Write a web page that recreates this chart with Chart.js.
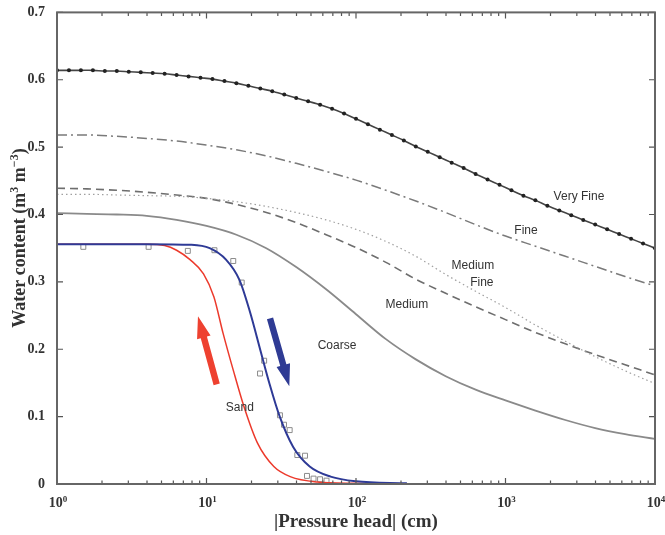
<!DOCTYPE html>
<html>
<head>
<meta charset="utf-8">
<script src="https://cdn.jsdelivr.net/npm/chart.js@4"></script>
<style>
  html, body { margin: 0; padding: 0; background: #fff; }
  #wrap { width: 665px; height: 535px; position: relative; }
</style>
</head>
<body>
<div id="wrap"><canvas id="retention"></canvas></div>
<script>
// --- Data ---
// pressure head values (cm) for the dotted "Very Fine" curve
const vfX = [1, 1.202, 1.445, 1.738, 2.089, 2.512, 3.020, 3.631, 4.365, 5.248, 6.310, 7.586, 9.120,
  10.96, 13.18, 15.85, 19.05, 22.91, 27.54, 33.11, 39.81, 47.86, 57.54, 69.18, 83.18, 100,
  120.2, 144.5, 173.8, 208.9, 251.2, 302.0, 363.1, 436.5, 524.8, 631.0, 758.6, 912.0,
  1096, 1318, 1585, 1905, 2291, 2754, 3311, 3981, 4786, 5754, 6918, 8318, 10000];
const veryFine = [0.614, 0.614, 0.614, 0.614, 0.613, 0.613, 0.612, 0.611, 0.610, 0.609, 0.607, 0.605, 0.603,
  0.601, 0.598, 0.595, 0.591, 0.587, 0.583, 0.578, 0.573, 0.568, 0.563, 0.557, 0.550, 0.542,
  0.534, 0.526, 0.518, 0.510, 0.501, 0.493, 0.485, 0.477, 0.469, 0.460, 0.452, 0.444,
  0.436, 0.428, 0.421, 0.413, 0.406, 0.399, 0.392, 0.385, 0.378, 0.371, 0.364, 0.357, 0.350];

// pressure head values (cm) shared by the other texture curves
const headX = [1, 1.585, 2.512, 3.981, 6.310, 10, 15.85, 25.12, 39.81, 63.10, 100,
  158.5, 251.2, 398.1, 631.0, 1000, 1585, 2512, 3981, 6310, 10000];
const fine       = [0.518, 0.518, 0.516, 0.513, 0.509, 0.503, 0.496, 0.487, 0.476, 0.464, 0.451,
  0.436, 0.420, 0.403, 0.385, 0.368, 0.353, 0.338, 0.323, 0.308, 0.294];
const mediumFine = [0.430, 0.430, 0.429, 0.428, 0.427, 0.424, 0.419, 0.412, 0.403, 0.392, 0.378,
  0.360, 0.338, 0.311, 0.286, 0.262, 0.236, 0.212, 0.189, 0.168, 0.149];
const medium     = [0.439, 0.438, 0.436, 0.433, 0.429, 0.424, 0.415, 0.403, 0.388, 0.370, 0.351,
  0.329, 0.304, 0.283, 0.263, 0.244, 0.225, 0.208, 0.192, 0.177, 0.162];
const coarse     = [0.402, 0.401, 0.400, 0.398, 0.392, 0.383, 0.370, 0.350, 0.322, 0.289, 0.252,
  0.215, 0.185, 0.160, 0.140, 0.124, 0.109, 0.095, 0.083, 0.074, 0.067];

// sand: drying (blue) and wetting (red) branches
const dryX = [1, 3.98, 7.94, 10.5, 13.5, 16.6, 19.5, 22.9, 26.3, 30.9, 38.0, 49.0, 67.6, 100, 219];
const dryY = [0.356, 0.356, 0.355, 0.350, 0.333, 0.303, 0.256, 0.199, 0.150, 0.100, 0.055, 0.026, 0.011, 0.004, 0.001];
const wetX = [1, 3.98, 5.25, 6.31, 7.76, 9.55, 11.2, 12.9, 15.1, 17.8, 21.9, 28.2, 36.3, 55, 100, 178];
const wetY = [0.356, 0.356, 0.354, 0.347, 0.333, 0.312, 0.278, 0.224, 0.169, 0.115, 0.061, 0.026, 0.011, 0.003, 0.001, 0.0];

// measured sand points (open squares)
const obsX = [1.5, 4.1, 7.5, 11.3, 15.1, 17.2, 22.8, 24.3, 31, 33, 36, 40.5, 45.6, 47, 52, 57.5, 63.5];
const obsY = [0.352, 0.352, 0.346, 0.347, 0.331, 0.299, 0.164, 0.183, 0.102, 0.088, 0.080, 0.043, 0.042, 0.012, 0.008, 0.007, 0.005];

// x tick labels (powers of ten): base + exponent
const decadeTicks = [1, 10, 100, 1000, 10000];
const decadeExps = ['0', '1', '2', '3', '4'];

// curve labels, placed in data coordinates
const curveLabels = [
  { text: 'Very Fine', x: 3100, y: 0.426 },
  { text: 'Fine', x: 1371, y: 0.376 },
  { text: 'Medium', x: 605, y: 0.324 },
  { text: 'Fine', x: 695, y: 0.299 },
  { text: 'Medium', x: 219, y: 0.266 },
  { text: 'Coarse', x: 74.6, y: 0.206 },
  { text: 'Sand', x: 16.7, y: 0.113 }
];

// hysteresis arrows: from tail to tip, data coordinates
const arrows = [
  { from: [11.7, 0.148], to: [8.77, 0.249], color: '#ee4130' },
  { from: [26.6, 0.246], to: [35.8, 0.145], color: '#2f3b94' }
];

function pairs(xs, ys) {
  return xs.map((x, i) => ({ x: x, y: ys[i] }));
}

const serif = '"Liberation Serif", "Times New Roman", serif';

// draw a run of [text, isSuperscript] pieces centred on 0,0
function drawRuns(ctx, runs, size) {
  const big = 'bold ' + size + 'px ' + serif;
  const small = 'bold ' + Math.round(size * 0.65) + 'px ' + serif;
  let total = 0;
  runs.forEach(r => { ctx.font = r[1] ? small : big; total += ctx.measureText(r[0]).width; });
  let x = -total / 2;
  ctx.textAlign = 'left';
  ctx.textBaseline = 'alphabetic';
  runs.forEach(r => {
    ctx.font = r[1] ? small : big;
    ctx.fillText(r[0], x, r[1] ? -size * 0.38 + size * 0.35 : size * 0.35);
    x += ctx.measureText(r[0]).width;
  });
}

// --- Plugins ---
const frameAndTicks = {
  id: 'frameAndTicks',
  afterDatasetsDraw(chart) {
    const { ctx, chartArea: a, scales } = chart;
    ctx.save();
    ctx.strokeStyle = '#555';
    ctx.lineWidth = 1.2;
    ctx.beginPath();
    // minor/major ticks along the log axis, top and bottom
    for (let d = 1; d <= 10000; d *= 10) {
      for (let m = 1; m < 10; m++) {
        const v = d * m;
        if (v > 10000) break;
        const px = scales.x.getPixelForValue(v);
        const len = m === 1 ? 6 : 3.5;
        ctx.moveTo(px, a.bottom); ctx.lineTo(px, a.bottom - len);
        ctx.moveTo(px, a.top); ctx.lineTo(px, a.top + len);
      }
    }
    for (let k = 0; k <= 7; k++) {
      const py = scales.y.getPixelForValue(k / 10);
      ctx.moveTo(a.left, py); ctx.lineTo(a.left + 6, py);
      ctx.moveTo(a.right, py); ctx.lineTo(a.right - 6, py);
    }
    ctx.stroke();
    ctx.lineWidth = 2;
    ctx.strokeStyle = '#666';
    ctx.strokeRect(a.left, a.top, a.right - a.left, a.bottom - a.top);

    // x tick labels 10^n
    ctx.fillStyle = '#333';
    decadeTicks.forEach((v, i) => {
      ctx.save();
      ctx.translate(scales.x.getPixelForValue(v) + 1, a.bottom + 18);
      drawRuns(ctx, [['10', false], [decadeExps[i], true]], 14);
      ctx.restore();
    });
    // axis titles
    ctx.save();
    ctx.translate((a.left + a.right) / 2, a.bottom + 36);
    drawRuns(ctx, [['|Pressure head| (cm)', false]], 19);
    ctx.restore();
    ctx.save();
    ctx.translate(19, 238);
    ctx.rotate(-Math.PI / 2);
    drawRuns(ctx, [['Water content (m', false], ['3', true], [' m', false], ['\u22123', true], [')', false]], 18);
    ctx.restore();
    ctx.restore();
  }
};

const notes = {
  id: 'notes',
  afterDatasetsDraw(chart) {
    const { ctx, scales } = chart;
    ctx.save();
    // arrows
    arrows.forEach(ar => {
      const x0 = scales.x.getPixelForValue(ar.from[0]), y0 = scales.y.getPixelForValue(ar.from[1]);
      const x1 = scales.x.getPixelForValue(ar.to[0]), y1 = scales.y.getPixelForValue(ar.to[1]);
      const ang = Math.atan2(y1 - y0, x1 - x0);
      const headLen = 22, headW = 7, shaftW = 3.2;
      const bx = x1 - headLen * Math.cos(ang), by = y1 - headLen * Math.sin(ang);
      const nx = -Math.sin(ang), ny = Math.cos(ang);
      ctx.fillStyle = ar.color;
      ctx.beginPath();
      ctx.moveTo(x0 + nx * shaftW, y0 + ny * shaftW);
      ctx.lineTo(bx + nx * shaftW, by + ny * shaftW);
      ctx.lineTo(bx + nx * headW, by + ny * headW);
      ctx.lineTo(x1, y1);
      ctx.lineTo(bx - nx * headW, by - ny * headW);
      ctx.lineTo(bx - nx * shaftW, by - ny * shaftW);
      ctx.lineTo(x0 - nx * shaftW, y0 - ny * shaftW);
      ctx.closePath();
      ctx.fill();
    });
    // curve names
    ctx.font = '12px "Liberation Sans", Arial, sans-serif';
    ctx.fillStyle = '#333';
    ctx.textAlign = 'center';
    ctx.textBaseline = 'middle';
    curveLabels.forEach(l => {
      ctx.fillText(l.text, scales.x.getPixelForValue(l.x), scales.y.getPixelForValue(l.y));
    });
    ctx.restore();
  }
};

// --- Chart ---
new Chart(document.getElementById('retention'), {
  type: 'line',
  data: {
    datasets: [
      { label: 'Very Fine', data: pairs(vfX, veryFine), borderColor: '#444', borderWidth: 1.6,
        pointRadius: 2, pointBackgroundColor: '#222', pointBorderWidth: 0, tension: 0.3 },
      { label: 'Fine', data: pairs(headX, fine), borderColor: '#7a7a7a', borderWidth: 1.5,
        borderDash: [10, 4, 2, 4], pointRadius: 0, cubicInterpolationMode: 'monotone' },
      { label: 'Medium Fine', data: pairs(headX, mediumFine), borderColor: '#a0a0a0', borderWidth: 1.2,
        borderDash: [1.5, 3], pointRadius: 0, cubicInterpolationMode: 'monotone' },
      { label: 'Medium', data: pairs(headX, medium), borderColor: '#6e6e6e', borderWidth: 1.6,
        borderDash: [8, 5], pointRadius: 0, cubicInterpolationMode: 'monotone' },
      { label: 'Coarse', data: pairs(headX, coarse), borderColor: '#8a8a8a', borderWidth: 1.8,
        pointRadius: 0, cubicInterpolationMode: 'monotone' },
      { label: 'Sand drying', data: pairs(dryX, dryY), borderColor: '#2e3a96', borderWidth: 2,
        pointRadius: 0, cubicInterpolationMode: 'monotone' },
      { label: 'Sand wetting', data: pairs(wetX, wetY), borderColor: '#ec3a2c', borderWidth: 1.5,
        pointRadius: 0, cubicInterpolationMode: 'monotone' },
      { label: 'Measured', data: pairs(obsX, obsY), showLine: false, pointStyle: 'rect',
        pointRadius: 3.5, borderColor: '#8c8c8c', borderWidth: 1, backgroundColor: 'rgba(0,0,0,0)' }
    ]
  },
  options: {
    responsive: true,
    maintainAspectRatio: false,
    animation: false,
    layout: { padding: { left: 0, right: 10, top: 12, bottom: 0 } },
    plugins: { legend: { display: false }, tooltip: { enabled: false } },
    scales: {
      x: {
        type: 'logarithmic',
        min: 1, max: 10000,
        grid: { display: false },
        border: { display: false },
        afterBuildTicks: scale => { scale.ticks = decadeTicks.map(v => ({ value: v })); },
        afterFit: scale => { scale.height = 51; },
        ticks: { display: false }
      },
      y: {
        min: 0, max: 0.7,
        grid: { display: false },
        border: { display: false },
        afterFit: scale => { scale.width = 57; },
        ticks: {
          stepSize: 0.1, padding: 4, color: '#333',
          font: { family: serif, size: 14, weight: 'bold' },
          callback: v => String(+v.toFixed(1))
        }
      }
    }
  },
  plugins: [frameAndTicks, notes]
});
</script>
</body>
</html>
